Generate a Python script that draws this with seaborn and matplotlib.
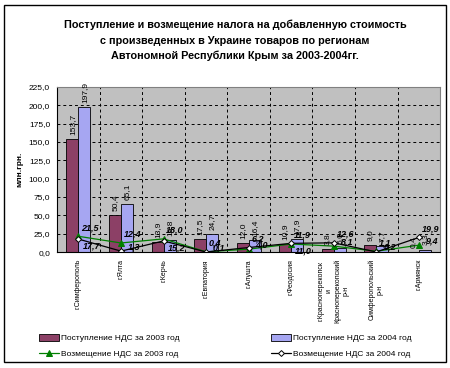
import matplotlib
matplotlib.use("Agg")
import matplotlib.pyplot as plt
import numpy as np
import pandas as pd
import seaborn as sns
from matplotlib.patches import Rectangle

# данные
regions = ["г.Симферополь", "г.Ялта", "г.Керчь", "г.Евпатория", "г.Алушта",
           "г.Феодосия", "г.Красноперекопск\nи\nКрасноперекопский\nр-н",
           "Симферопольский\nр-н", "г.Армянск"]
income_2003 = [153.7, 50.4, 13.9, 17.5, 12.0, 10.9, 3.8, 9.0, 0.4]
income_2004 = [197.9, 65.1, 16.8, 24.7, 16.4, 17.9, 5.0, 7.7, 3.3]
refund_2003 = [21.5, 12.4, 18.0, 0.4, 4.0, 11.0, 8.1, 1.1, 9.4]
refund_2004 = [17.7, 1.3, 15.2, 0.1, 6.2, 11.9, 12.6, 0.2, 19.9]
y_ticks = [0, 25, 50, 75, 100, 125, 150, 175, 200, 225]

lbl_inc03 = "Поступление НДС за 2003 год"
lbl_inc04 = "Поступление НДС за 2004 год"
lbl_ref03 = "Возмещение НДС за 2003 год"
lbl_ref04 = "Возмещение НДС за 2004 год"

sns.set_style("white")
plt.rcParams['font.family'] = ['Liberation Sans', 'DejaVu Sans']
plt.rcParams['text.color'] = 'black'
plt.rcParams['axes.labelcolor'] = 'black'
plt.rcParams['xtick.color'] = 'black'
plt.rcParams['ytick.color'] = 'black'


def fmt(v):
    return f"{v:.1f}".replace('.', ',')


df = pd.DataFrame({
    'region': regions * 2,
    'value': income_2003 + income_2004,
    'year': [lbl_inc03] * len(regions) + [lbl_inc04] * len(regions),
})

fig = plt.figure(figsize=(4.5, 3.68), dpi=100)
ax = fig.add_axes([0.127, 0.315, 0.851, 0.449])
ax.set_facecolor('#C0C0C0')

sns.barplot(data=df, x='region', y='value', hue='year',
            palette=['#993366', '#9999FF'], width=0.565,
            edgecolor='black', linewidth=0.6, ax=ax)

for cont, vals in zip(ax.containers, [income_2003, income_2004]):
    ax.bar_label(cont, labels=[fmt(v) for v in vals], rotation=90,
                 padding=3, fontsize=6)

idx = np.arange(len(regions))
sns.lineplot(x=idx, y=refund_2003, color='#008000', marker='^',
             markersize=4, markeredgecolor='#008000', linewidth=0.9,
             label=lbl_ref03, ax=ax)
sns.lineplot(x=idx, y=refund_2004, color='black', marker='D',
             markersize=3, markerfacecolor='white', markeredgecolor='black',
             markeredgewidth=0.7, linewidth=0.9, label=lbl_ref04, ax=ax)

# подписи значений линий: верхняя точка - подпись сверху, нижняя - снизу
for i in idx:
    for v, other in [(refund_2003[i], refund_2004[i]), (refund_2004[i], refund_2003[i])]:
        if v >= other:
            off, va = (2, 3), 'bottom'
        elif v < 10:
            off, va = (5, 0), 'bottom'
        else:
            off, va = (3, -2), 'top'
        ax.annotate(fmt(v), (i, v), xytext=off, textcoords='offset points',
                    fontsize=6.5, style='italic', weight='bold', va=va)

ax.set_xlim(-0.5, len(regions) - 0.5)
ax.set_ylim(0, 225)
ax.set_yticks(y_ticks)
ax.set_yticklabels([fmt(t) for t in y_ticks], fontsize=6)
ax.set_xticks(idx)
ax.set_xticklabels(regions, rotation=90, fontsize=5, va='top', ha='center')
ax.set_xticks(np.arange(0.5, len(regions) - 1, 1), minor=True)
ax.tick_params(axis='x', which='major', length=0, pad=5)
ax.tick_params(axis='x', which='minor', length=3, width=0.7, direction='out')
ax.tick_params(axis='y', length=3, width=0.7, direction='out', pad=2)
ax.set_xlabel('')
ax.set_ylabel('млн.грн.', fontsize=6, labelpad=4, weight='bold')

ax.set_axisbelow(True)
ax.yaxis.grid(True, linestyle=(0, (3, 3)), color='black', linewidth=0.7)
ax.xaxis.grid(True, which='minor', linestyle=(0, (3, 3)), color='black', linewidth=0.7)
ax.xaxis.grid(False, which='major')

for side in ['left', 'bottom']:
    ax.spines[side].set_color('black')
    ax.spines[side].set_linewidth(0.8)
for side in ['top', 'right']:
    ax.spines[side].set_color('#808080')
    ax.spines[side].set_linewidth(0.8)

handles, labels = ax.get_legend_handles_labels()
hmap = dict(zip(labels, handles))
ax.get_legend().remove()
order = [lbl_inc03, lbl_ref03, lbl_inc04, lbl_ref04]
fig.legend([hmap[k] for k in order], order, ncol=2, loc='center',
           bbox_to_anchor=(0.5, 0.06), frameon=False, fontsize=6,
           handlelength=2.4, handleheight=0.9, handletextpad=0.2,
           columnspacing=11, labelspacing=0.9)

title_lines = ["Поступление и возмещение налога на добавленную стоимость",
               "с произведенных в Украине товаров по регионам",
               "Автономной Республики Крым за 2003-2004гг."]
for k, line in enumerate(title_lines):
    fig.text(0.522, 1 - (25 + 15.5 * k) / 368, line, ha='center', va='center',
             fontsize=7.8, weight='bold')

fig.add_artist(Rectangle((0.008, 0.016), 0.984, 0.97, transform=fig.transFigure,
                         fill=False, edgecolor='black', linewidth=1))

fig.savefig('out.png', dpi=100)
